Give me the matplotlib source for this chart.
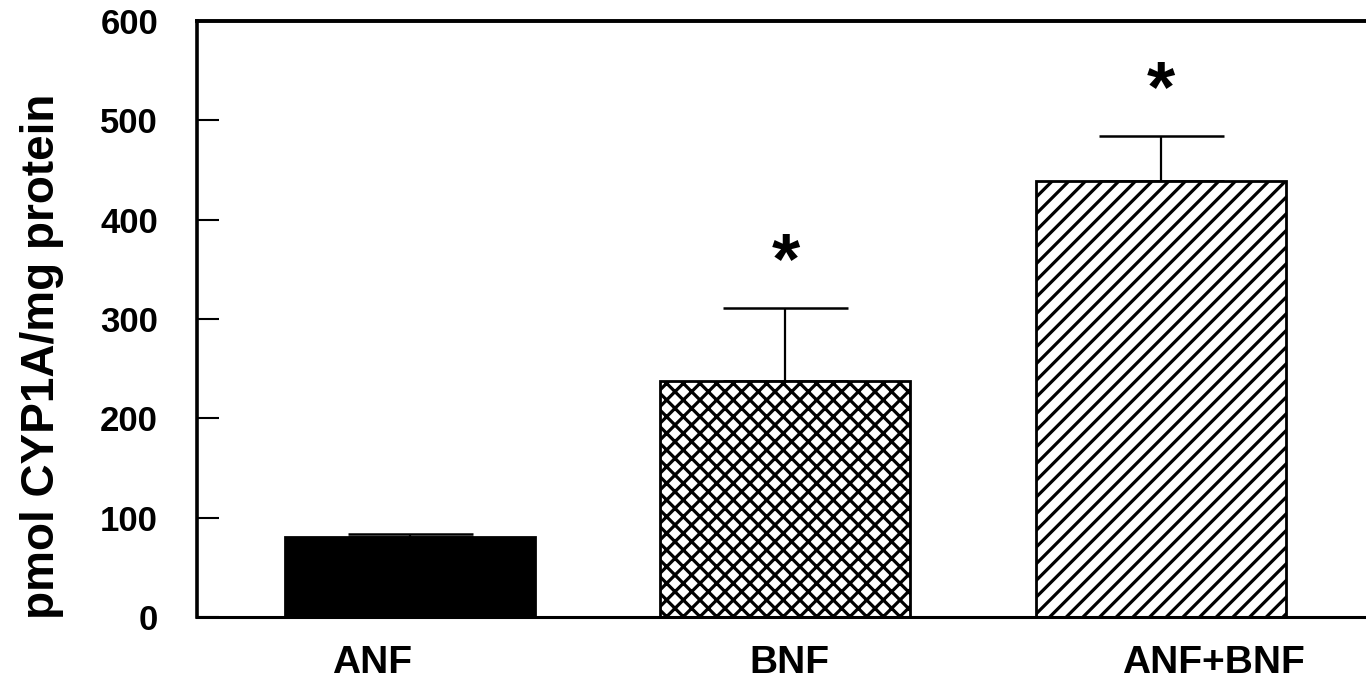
import numpy as np
import matplotlib.pyplot as plt

# Дані
groups = ["ANF", "BNF", "ANF+BNF"]
means = [81, 238, 439]
errors = [3, 73, 45]
hatches = ["", "xx", "//"]
colors = ["black", "white", "white"]
significant = [False, True, True]
label_x = [-0.1, 1.01, 2.14]

plt.rcParams['font.family'] = ['Liberation Sans', 'DejaVu Sans']
plt.rcParams['font.weight'] = 'bold'
plt.rcParams['hatch.linewidth'] = 2.3

fig = plt.figure(figsize=(13.66, 7), dpi=100)
ax = fig.add_axes([0.1442, 0.1186, 0.8558, 0.8514])

x = np.arange(len(groups))
for i in range(len(groups)):
    ax.bar(x[i], means[i], width=0.665, color=colors[i], edgecolor='black',
           linewidth=2, hatch=hatches[i], zorder=2)
    ax.errorbar(x[i], means[i], yerr=[[0], [errors[i]]], fmt='none',
                ecolor='black', elinewidth=1.6, capsize=45, capthick=1.8, zorder=1)
    # зірочка значущості
    if significant[i]:
        ax.text(x[i], means[i] + errors[i] + 44, "*", ha='center', va='center',
                fontsize=52, fontweight='bold')

ax.set_xlim(-0.566, 2.545)
ax.set_ylim(0, 600)
ax.set_yticks(np.arange(0, 601, 100))
ax.set_xticks(label_x)
ax.set_xticklabels(groups, fontsize=28, fontweight='bold')
ax.tick_params(axis='x', length=0, pad=20)
ax.tick_params(axis='y', direction='in', length=16, width=1.5, pad=28, labelsize=25)
for lab in ax.get_yticklabels():
    lab.set_fontweight('bold')

ax.spines['right'].set_visible(False)
ax.spines['left'].set_linewidth(2.6)
ax.spines['top'].set_linewidth(2.8)
ax.spines['bottom'].set_linewidth(2.2)

fig.text(0.031, 1 - 356 / 700, "pmol CYP1A/mg protein", rotation=90,
         ha='center', va='center', fontsize=33, fontweight='bold')

fig.savefig("out.png", dpi=100)
